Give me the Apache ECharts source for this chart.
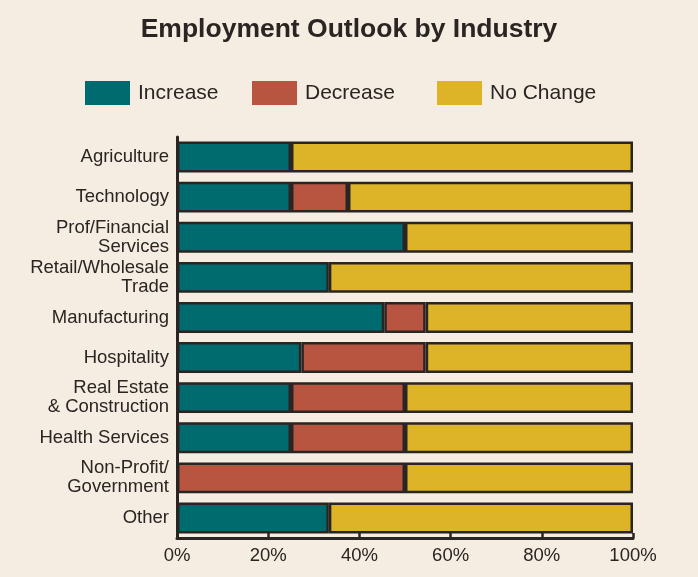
<!DOCTYPE html>
<html><head><meta charset="utf-8">
<script src="https://cdn.jsdelivr.net/npm/echarts@6/dist/echarts.min.js"></script>
<style>html,body{margin:0;padding:0;background:#f5ede2;}#c{width:698px;height:577px;}</style>
</head><body><div id="c"></div>
<script>
const categories = ["Agriculture","Technology","Prof/Financial\nServices","Retail/Wholesale\nTrade","Manufacturing","Hospitality","Real Estate\n& Construction","Health Services","Non-Profit/\nGovernment","Other"];
const seriesNames = ["Increase","Decrease","No Change"];
const increase = [25, 25, 50, 33.3, 45.45, 27.27, 25, 25, 0, 33.3];
const decrease = [0, 12.5, 0, 0, 9.09, 27.27, 25, 25, 50, 0];
const noChange = [75, 62.5, 50, 66.7, 45.46, 45.46, 50, 50, 50, 66.7];
const xTicks = ["0%","20%","40%","60%","80%","100%"];

const font = "'Liberation Sans', Arial, sans-serif";
const dark = "#2a2522";
const colors = ['#006b6e', '#b85540', '#ddb427'];
const cats = categories.slice().reverse();
const prep = a => a.slice().reverse().map(v => v === 0 ? '-' : v);
function ser(name, data, color) {
  return { name, type: 'bar', stack: 'all', data: prep(data), barCategoryGap: '23%',
    itemStyle: { color, borderColor: dark, borderWidth: 2.5 } };
}
const legendLefts = [80, 247, 432];
const legends = seriesNames.map((n, i) => ({
  left: legendLefts[i], top: 76, itemWidth: 45, itemHeight: 24, icon: 'rect',
  textStyle: { fontFamily: font, fontSize: 21, color: dark, padding: [0, 0, 0, 3] },
  data: [{ name: n, itemStyle: { borderWidth: 0 } }]
}));
const chart = echarts.init(document.getElementById('c'));
chart.setOption({
  backgroundColor: '#f5ede2',
  animation: false,
  title: { text: 'Employment Outlook by Industry', left: 'center', top: 11,
    textStyle: { fontFamily: font, fontSize: 26.5, fontWeight: 'bold', color: dark } },
  legend: legends,
  grid: { left: 177, right: 65, top: 137, bottom: 39 },
  xAxis: { type: 'value', min: 0, max: 100, interval: 20,
    axisLine: { show: true, lineStyle: { color: dark, width: 3 } },
    axisTick: { show: true, inside: true, length: 5, lineStyle: { color: dark, width: 2.5 } },
    splitLine: { show: false },
    axisLabel: { formatter: v => xTicks[v / 20], fontFamily: font, fontSize: 18.5, color: dark, margin: 8 } },
  yAxis: { type: 'category', data: cats,
    axisLine: { show: true, lineStyle: { color: dark, width: 3 } },
    axisTick: { show: false },
    axisLabel: { fontFamily: font, fontSize: 18.5, color: dark, lineHeight: 19, margin: 8, align: 'right', padding: [3, 0, 0, 0] } },
  series: [ ser(seriesNames[0], increase, colors[0]), ser(seriesNames[1], decrease, colors[1]), ser(seriesNames[2], noChange, colors[2]) ]
});
</script></body></html>
